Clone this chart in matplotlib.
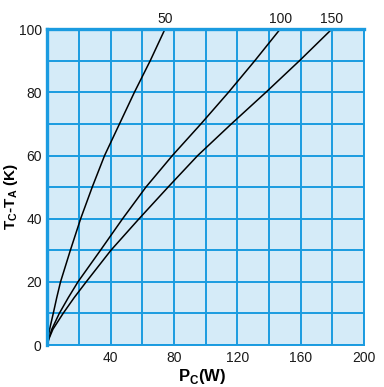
import numpy as np
import matplotlib
matplotlib.use("Agg")
import matplotlib.pyplot as plt

plt.rcParams['font.family'] = ['Liberation Sans', 'DejaVu Sans']

# temperatura (K) nos pontos lidos
dT = [0, 2, 5, 10, 15, 20, 30, 40, 50, 60, 70, 80, 90, 100]

# potencia (W) de cada curva, por nivel de dT
pc_50 = [0, 0.5, 1.5, 3.8, 6.0, 8.4, 14.6, 21.1, 28.4, 36.2, 45.6, 55.0, 65.0, 74.3]
pc_100 = [0, 0.9, 2.9, 7.6, 13.3, 19.4, 33.6, 47.6, 62.3, 79.0, 97.0, 114.4, 131.0, 147.0]
pc_150 = [0, 1.1, 3.6, 10.0, 17.0, 24.6, 40.2, 58.0, 76.3, 95.0, 116.2, 138.0, 159.2, 179.6]

curvas = {'50': pc_50, '100': pc_100, '150': pc_150}

xticks = [40, 80, 120, 160, 200]
yticks = [0, 20, 40, 60, 80, 100]

azul = '#1a9be0'
fundo = '#d5ebf8'

fig = plt.figure(figsize=(3.84, 3.87), dpi=100)
ax = fig.add_axes([0.123, 0.1085, 0.825, 0.816])
ax.set_facecolor(fundo)

ax.set_xlim(0, 200)
ax.set_ylim(0, 100)
ax.set_xticks(np.arange(0, 201, 20))
ax.set_yticks(np.arange(0, 101, 10))
ax.grid(True, color=azul, linewidth=1.4)
ax.set_axisbelow(True)

# so alguns rotulos aparecem
ax.set_xticklabels(['' if v not in xticks else str(v) for v in range(0, 201, 20)])
ax.set_yticklabels(['' if v not in yticks else str(v) for v in range(0, 101, 10)])
ax.tick_params(length=0, labelsize=10, labelcolor='#1a1a1a', pad=4)

for lado in ['bottom', 'right']:
    ax.spines[lado].set_color(azul)
    ax.spines[lado].set_linewidth(1.4)
for lado in ['left', 'top']:
    ax.spines[lado].set_color(azul)
    ax.spines[lado].set_linewidth(2.4)

for nome, pc in curvas.items():
    ax.plot(pc, dT, color='black', linewidth=1.1, clip_on=False)
    ax.annotate(nome, (pc[-1], dT[-1]), xytext=(0, 2), textcoords='offset points',
                ha='center', va='bottom', fontsize=10, color='#1a1a1a')

ax.set_ylabel(r'T$_\mathregular{C}$-T$_\mathregular{A}$ (K)', fontsize=11,
              fontweight='bold')
ax.yaxis.set_label_coords(-0.085, 0.47)
ax.set_xlabel(r'P$_\mathregular{C}$(W)', fontsize=12, fontweight='bold')
ax.xaxis.set_label_coords(0.49, -0.07)

fig.savefig('out.png', dpi=100)
